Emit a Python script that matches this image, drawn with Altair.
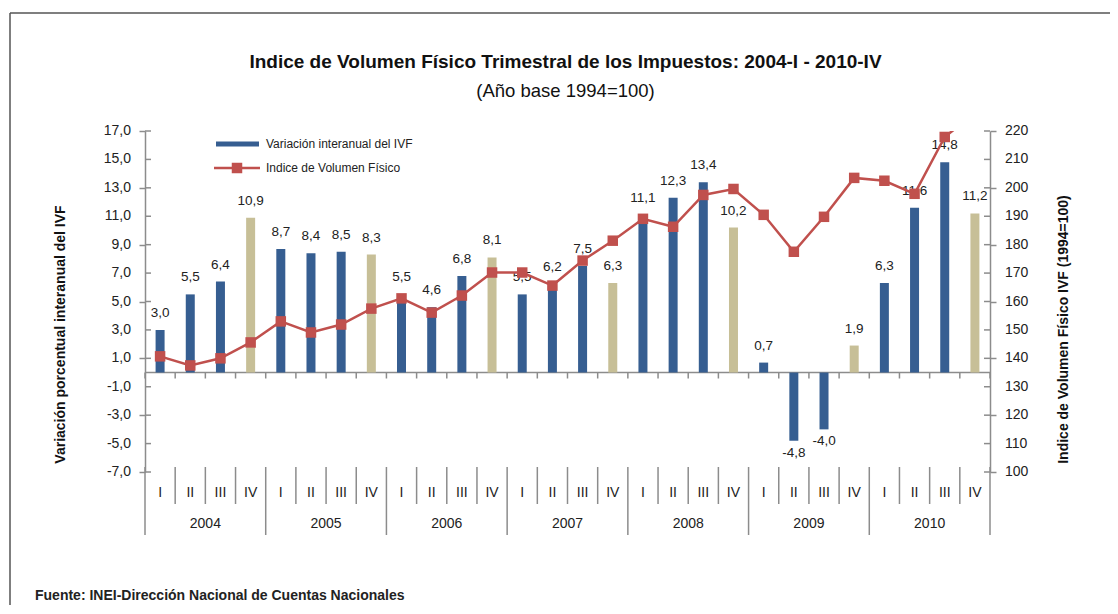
import altair as alt
import pandas as pd

years = ["2004", "2005", "2006", "2007", "2008", "2009", "2010"]
quarters = ["I", "II", "III", "IV"]
variacion = [3.0, 5.5, 6.4, 10.9,
             8.7, 8.4, 8.5, 8.3,
             5.5, 4.6, 6.8, 8.1,
             5.5, 6.2, 7.5, 6.3,
             11.1, 12.3, 13.4, 10.2,
             0.7, -4.8, -4.0, 1.9,
             6.3, 11.6, 14.8, 11.2]
indice = [140.7, 137.5, 140.0, 145.6,
          153.0, 149.1, 151.9, 157.5,
          161.1, 156.1, 162.1, 170.2,
          170.2, 165.6, 174.4, 181.4,
          189.1, 186.3, 197.5, 199.6,
          190.5, 177.5, 189.8, 203.5,
          202.5, 197.9, 217.9, 226.3]
legend_labels = ["Variación interanual del IVF", "Indice de Volumen Físico"]
left_ticks = [-7, -5, -3, -1, 1, 3, 5, 7, 9, 11, 13, 15, 17]
right_ticks = [100, 110, 120, 130, 140, 150, 160, 170, 180, 190, 200, 210, 220]
title_text = "Indice de Volumen Físico Trimestral de los Impuestos: 2004-I - 2010-IV"
subtitle_text = "(Año base 1994=100)"
left_title = "Variación porcentual interanual del IVF"
right_title = "Indice de Volumen Físico IVF (1994=100)"
source_text = "Fuente: INEI-Dirección Nacional de Cuentas  Nacionales"

FONT = "Liberation Sans, Arial, sans-serif"
BLUE = "#365E91"
TAN = "#C7BF97"
RED = "#C0504D"
AXIS = "#8c8c8c"
TXT = "#222222"

rows = []
i = 0
for y in years:
    for q in quarters:
        rows.append(dict(key=f"{y}-{q}", year=y, quarter=q, pct=variacion[i],
                         idx=indice[i], tipo="iv" if q == "IV" else "q"))
        i += 1
df = pd.DataFrame(rows)
df["label"] = [f"{v:.1f}".replace(".", ",") for v in df["pct"]]
keys = list(df["key"])
lt = pd.DataFrame({"v": left_ticks})
lt["lab"] = [f"{v:.1f}".replace(".", ",") for v in left_ticks]
rt = pd.DataFrame({"v": right_ticks})
rt["lab"] = [str(v) for v in right_ticks]

W, H = 845, 341

xs = alt.Scale(type="band", domain=keys, paddingInner=0, paddingOuter=0)


def X(**kw):
    return alt.X("key:N", scale=xs, axis=None, **kw)


ys_left = alt.Scale(domain=[-7, 17], nice=False)
ys_right = alt.Scale(domain=[100, 220], nice=False, zero=False)

left_axis = alt.Axis(
    values=left_ticks, labels=False,
    grid=False, domainColor=AXIS, domainWidth=1.5, tickColor=AXIS, tickWidth=1.5,
    tickSize=6,
    title=left_title, titleFont=FONT, titleFontSize=14, titleFontWeight="bold",
    titleColor="#111111", titleX=-85, titleY=203, titleAngle=270,
    titleAlign="center", titleBaseline="middle")

right_axis = alt.Axis(
    orient="right", values=right_ticks, labels=False,
    grid=False, domainColor=AXIS, domainWidth=1.5, tickColor=AXIS, tickWidth=1.5,
    tickSize=6,
    title=right_title, titleFont=FONT, titleFontSize=14, titleFontWeight="bold",
    titleColor="#111111", titleX=73, titleY=198, titleAngle=270,
    titleAlign="center", titleBaseline="middle")

one = pd.DataFrame({"t": [source_text]})
ttl = pd.DataFrame({"t": [title_text]})
sub = pd.DataFrame({"t": [subtitle_text]})

frame_v = alt.Chart(one).mark_rule(color="#555555", strokeWidth=1.5).encode(
    x=alt.value(-135), y=alt.value(-118), y2=alt.value(700))
frame_h = alt.Chart(one).mark_rule(color="#555555", strokeWidth=1.5).encode(
    x=alt.value(-135), x2=alt.value(1200), y=alt.value(-118))

title_mark = alt.Chart(ttl).mark_text(font=FONT, fontSize=19, fontWeight="bold", fill="#111111",
                                      baseline="middle").encode(
    x=alt.value(W / 2 - 2), y=alt.value(-69), text="t:N")
sub_mark = alt.Chart(sub).mark_text(font=FONT, fontSize=18.5, fill="#111111",
                                    baseline="middle").encode(
    x=alt.value(W / 2 - 2), y=alt.value(-40), text="t:N")

left_inner_ticks = alt.Chart(lt).mark_rule(color=AXIS, strokeWidth=1.5).encode(
    y=alt.Y("v:Q", scale=ys_left), x=alt.value(0), x2=alt.value(6))
left_tick_labels = alt.Chart(lt).mark_text(font=FONT, fontSize=14, fill=TXT, align="right",
                                           baseline="middle").encode(
    y=alt.Y("v:Q", scale=ys_left), x=alt.value(-14), text="lab:N")

zero_line = alt.Chart(one).mark_rule(color=AXIS, strokeWidth=1.5).encode(
    y=alt.Y(datum=0, scale=ys_left))
zero_ticks = alt.Chart(df).mark_rule(color=AXIS, strokeWidth=1.5).encode(
    x=X(bandPosition=0), y=alt.value(241.5), y2=alt.value(247.5))
zero_tick_end = alt.Chart(df).transform_filter("datum.key == '2010-IV'").mark_rule(
    color=AXIS, strokeWidth=1.5).encode(
    x=X(bandPosition=1), y=alt.value(241.5), y2=alt.value(247.5))

q_sep = alt.Chart(df).transform_filter("datum.quarter != 'I'").mark_rule(
    color=AXIS, strokeWidth=1.5).encode(
    x=X(bandPosition=0), y=alt.value(336), y2=alt.value(373))
y_sep = alt.Chart(df).transform_filter("datum.quarter == 'I'").mark_rule(
    color=AXIS, strokeWidth=1.5).encode(
    x=X(bandPosition=0), y=alt.value(336), y2=alt.value(404))
y_sep_end = alt.Chart(df).transform_filter("datum.key == '2010-IV'").mark_rule(
    color=AXIS, strokeWidth=1.5).encode(
    x=X(bandPosition=1), y=alt.value(336), y2=alt.value(404))

q_labels = alt.Chart(df).mark_text(font=FONT, fontSize=14, fill=TXT, baseline="middle").encode(
    x=X(), y=alt.value(362), text="quarter:N")
y_labels = alt.Chart(df).transform_filter("datum.quarter == 'III'").mark_text(
    font=FONT, fontSize=14, fill=TXT, baseline="middle").encode(
    x=X(bandPosition=0), y=alt.value(393), text="year:N")

bars = alt.Chart(df).mark_bar(size=9).encode(
    x=X(),
    y=alt.Y("pct:Q", scale=ys_left, axis=left_axis),
    y2=alt.Y2(datum=0),
    color=alt.Color("tipo:N", scale=alt.Scale(domain=["q", "iv"], range=[BLUE, TAN]), legend=None))

pos_labels = alt.Chart(df).transform_filter("datum.pct >= 0").mark_text(
    dy=-17, font=FONT, fontSize=13.5, fill=TXT, baseline="middle").encode(
    x=X(), y=alt.Y("pct:Q", scale=ys_left), text="label:N")
neg_labels = alt.Chart(df).transform_filter("datum.pct < 0").mark_text(
    dy=12, font=FONT, fontSize=13.5, fill=TXT, baseline="middle").encode(
    x=X(), y=alt.Y("pct:Q", scale=ys_left), text="label:N")

leg1 = pd.DataFrame({"t": [legend_labels[0]]})
leg2 = pd.DataFrame({"t": [legend_labels[1]]})
leg1_sym = alt.Chart(leg1).mark_rule(color=BLUE, strokeWidth=5).encode(
    x=alt.value(71), x2=alt.value(114), y=alt.value(13))
leg1_txt = alt.Chart(leg1).mark_text(font=FONT, fontSize=12, fill=TXT, align="left",
                                     baseline="middle").encode(
    x=alt.value(121), y=alt.value(13), text="t:N")
leg2_line = alt.Chart(leg2).mark_rule(color=RED, strokeWidth=2.5).encode(
    x=alt.value(69), x2=alt.value(115), y=alt.value(37))
leg2_sym = alt.Chart(leg2).mark_point(shape="square", filled=True, size=110, color=RED,
                                      opacity=1).encode(
    x=alt.value(92), y=alt.value(37))
leg2_txt = alt.Chart(leg2).mark_text(font=FONT, fontSize=12, fill=TXT, align="left",
                                     baseline="middle").encode(
    x=alt.value(121), y=alt.value(37), text="t:N")

source = alt.Chart(one).mark_text(font=FONT, fontSize=14, fontWeight="bold", fill=TXT,
                                  align="left", baseline="middle").encode(
    x=alt.value(-110), y=alt.value(465), text="t:N")

left = alt.layer(frame_v, frame_h, title_mark, sub_mark, zero_line, zero_ticks, zero_tick_end,
                 q_sep, y_sep, y_sep_end, q_labels, y_labels, left_inner_ticks, left_tick_labels,
                 bars, pos_labels, neg_labels,
                 leg1_sym, leg1_txt, leg2_line, leg2_sym, leg2_txt, source)

right_inner_ticks = alt.Chart(rt).mark_rule(color=AXIS, strokeWidth=1.5).encode(
    y=alt.Y("v:Q", scale=ys_right), x=alt.value(W - 6), x2=alt.value(W))
right_tick_labels = alt.Chart(rt).mark_text(font=FONT, fontSize=14, fill=TXT, align="left",
                                            baseline="middle").encode(
    y=alt.Y("v:Q", scale=ys_right), x=alt.value(W + 15), text="lab:N")
line = alt.Chart(df).mark_line(color=RED, strokeWidth=2.5, clip=True).encode(
    x=X(), y=alt.Y("idx:Q", scale=ys_right, axis=right_axis))
points = alt.Chart(df).mark_point(shape="square", filled=True, size=110, color=RED,
                                  opacity=1, clip=True).encode(
    x=X(), y=alt.Y("idx:Q", scale=ys_right))
right = alt.layer(line, right_inner_ticks, right_tick_labels, points)

chart = alt.layer(left, right).resolve_scale(y="independent").properties(
    width=W, height=H,
    padding={"left": 137, "top": 123, "right": 120, "bottom": 133},
    autosize=alt.AutoSizeParams(type="none"),
).configure_view(stroke=None)

chart.save("out.html", embed_options={"renderer": "svg", "actions": False})
